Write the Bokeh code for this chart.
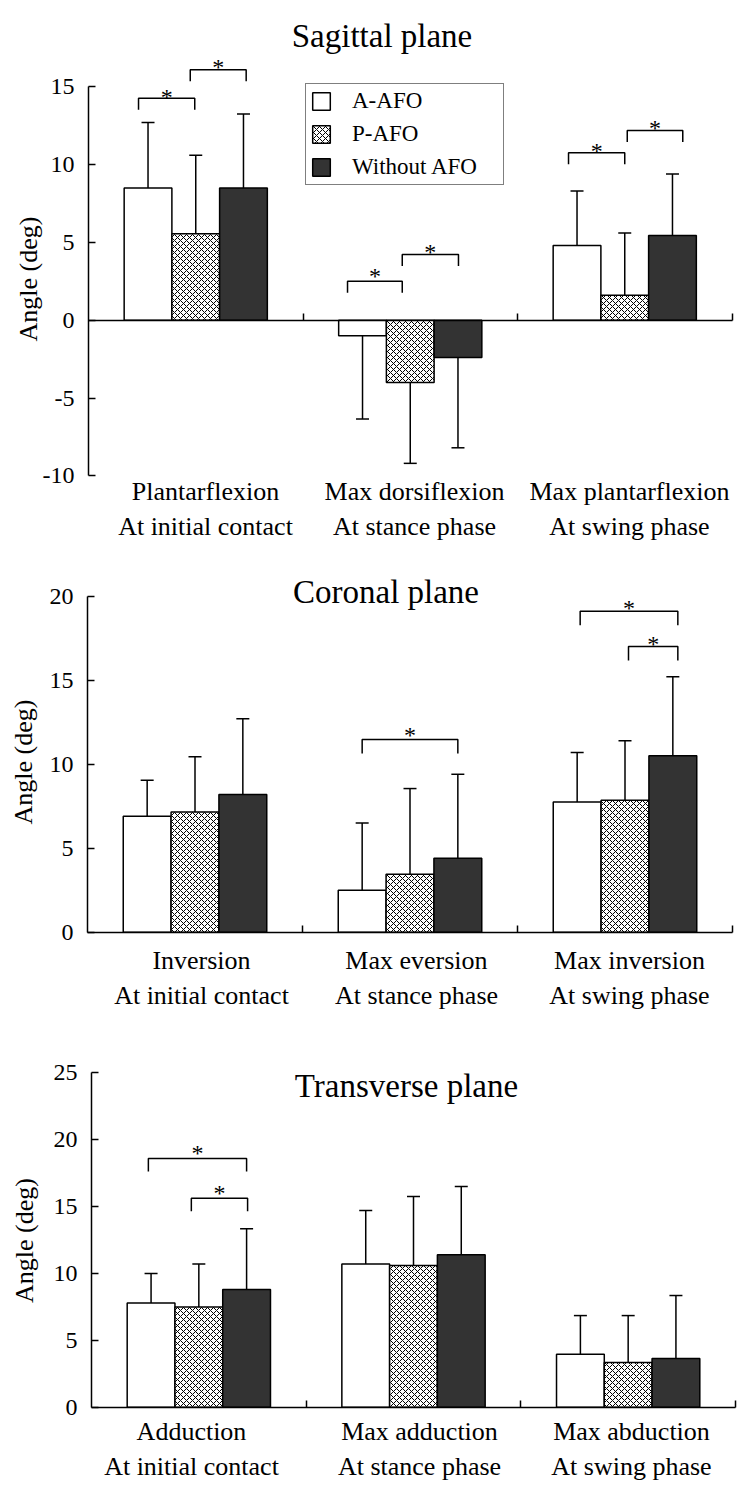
import math
from bokeh.plotting import figure
from bokeh.models import (ColumnDataSource, Range1d, FixedTicker, LinearAxis,
                          Whisker, TeeHead, Legend, LegendItem)
from bokeh.layouts import column
from bokeh.core.properties import value
from bokeh.embed import file_html
from bokeh.resources import INLINE

FONT = "Liberation Serif"

series = ["A-AFO", "P-AFO", "Without AFO"]

# ---------------- Sagittal plane ----------------
sag_title = "Sagittal plane"
sag_labels = ["Plantarflexion\nAt initial contact",
              "Max dorsiflexion\nAt stance phase",
              "Max plantarflexion\nAt swing phase"]
sag_a = [8.5, -1.0, 4.8]
sag_a_sd = [4.2, 5.35, 3.5]
sag_p = [5.55, -4.0, 1.6]
sag_p_sd = [5.05, 5.2, 4.0]
sag_w = [8.5, -2.4, 5.45]
sag_w_sd = [4.75, 5.8, 3.95]
sag_yticks = [-10, -5, 0, 5, 10, 15]
# (category, bar i, bar j, bracket height, star height)
sag_sig = [(0, 0, 1, 14.27, 15.08), (0, 1, 2, 16.09, 16.95),
           (1, 0, 1, 2.51, 3.52), (1, 1, 2, 4.22, 5.08),
           (2, 0, 1, 10.76, 11.55), (2, 1, 2, 12.19, 13.05)]

# ---------------- Coronal plane ----------------
cor_title = "Coronal plane"
cor_labels = ["Inversion\nAt initial contact",
              "Max eversion\nAt stance phase",
              "Max inversion\nAt swing phase"]
cor_a = [6.9, 2.5, 7.75]
cor_a_sd = [2.15, 4.0, 2.95]
cor_p = [7.15, 3.45, 7.85]
cor_p_sd = [3.3, 5.1, 3.55]
cor_w = [8.2, 4.4, 10.5]
cor_w_sd = [4.5, 5.0, 4.7]
cor_yticks = [0, 5, 10, 15, 20]
cor_sig = [(1, 0, 2, 11.47, 12.4), (2, 0, 2, 19.1, 19.94), (2, 1, 2, 17.0, 17.8)]

# ---------------- Transverse plane ----------------
tra_title = "Transverse plane"
tra_labels = ["Adduction\nAt initial contact",
              "Max adduction\nAt stance phase",
              "Max abduction\nAt swing phase"]
tra_a = [7.8, 10.7, 3.95]
tra_a_sd = [2.2, 4.0, 2.9]
tra_p = [7.5, 10.6, 3.35]
tra_p_sd = [3.2, 5.15, 3.5]
tra_w = [8.8, 11.4, 3.65]
tra_w_sd = [4.55, 5.1, 4.7]
tra_yticks = [0, 5, 10, 15, 20, 25]
tra_sig = [(0, 0, 2, 18.6, 19.81), (0, 1, 2, 15.63, 16.85)]

y_title = "Angle (deg)"

# ---------------- layout / style (page pixels) ----------------
FILLS = ["white", "white", "#333333"]
HATCH = [None, "x", None]
BAR_W = 0.2225
PAGE_X0 = 1          # observed left offset of the figures on the page
FIG_W = 738

layouts = [
    dict(top=0, h=548, ax_x=89, ax_end=732.5, zero=319.7, ppu=15.56,
         lab_standoff=1, lab_x=[206, 415, 630], title_xy=(382.5, 35),
         ylab_xy=(29.2, 278.5), leg=11.5,
         sig_dx=[(-9.5, -1), (-5.5, 2.7), (-15, -8), (-8, 0.5), (-8.5, 0), (2.5, 10.3)]),
    dict(top=548, h=492, ax_x=88, ax_end=733, zero=931.7, ppu=16.8,
         lab_standoff=14, lab_x=[202, 417, 630], title_xy=(386.5, 591.7),
         ylab_xy=(24.2, 761.5), leg=14,
         sig_dx=[(0, 0), (3, 5), (3.5, 5)]),
    dict(top=1040, h=445, ax_x=92, ax_end=736, zero=1406.7, ppu=13.375,
         lab_standoff=10, lab_x=[192, 420, 632], title_xy=(407, 1085),
         ylab_xy=(25.3, 1240), leg=13,
         sig_dx=[(-2.7, 0), (-7.5, 1)]),
]

panels = [
    (sag_title, sag_labels, [(sag_a, sag_a_sd), (sag_p, sag_p_sd), (sag_w, sag_w_sd)], sag_yticks, sag_sig),
    (cor_title, cor_labels, [(cor_a, cor_a_sd), (cor_p, cor_p_sd), (cor_w, cor_w_sd)], cor_yticks, cor_sig),
    (tra_title, tra_labels, [(tra_a, tra_a_sd), (tra_p, tra_p_sd), (tra_w, tra_w_sd)], tra_yticks, tra_sig),
]


def make_panel(idx):
    title, labels, data, yticks, sig = panels[idx]
    L = layouts[idx]
    ax_x = L["ax_x"]
    ppx = (L["ax_end"] - ax_x) / 3.0
    ppu = L["ppu"]
    bottom = L["top"] + L["h"]
    x0 = (PAGE_X0 - ax_x) / ppx
    x1 = (PAGE_X0 + FIG_W - ax_x) / ppx
    y0 = (L["zero"] - bottom) / ppu
    y1 = (L["zero"] - L["top"]) / ppu
    p = figure(width=FIG_W, height=L["h"], output_backend="svg", toolbar_location=None,
               x_range=Range1d(x0, x1), y_range=Range1d(y0, y1), title=None,
               x_axis_location=None, y_axis_location=None,
               min_border_left=0, min_border_right=0, min_border_top=0,
               min_border_bottom=0,
               background_fill_color="white", border_fill_color="white",
               outline_line_color=None)
    p.xgrid.visible = False
    p.ygrid.visible = False

    # y axis at x = 0
    ya = LinearAxis(fixed_location=0, ticker=FixedTicker(ticks=yticks),
                    bounds=(yticks[0], yticks[-1]),
                    major_label_overrides={t: str(t) for t in yticks},
                    major_tick_in=7, major_tick_out=0, minor_tick_line_color=None,
                    axis_line_width=1.5, major_tick_line_width=1.5,
                    major_label_standoff=14, major_label_text_font=FONT,
                    major_label_text_font_size="24px", major_label_text_color="black")
    p.add_layout(ya, "left")

    # y axis title, centred on the axis span
    lx = (L["ylab_xy"][0] - ax_x) / ppx
    ly = (L["zero"] - L["ylab_xy"][1]) / ppu
    p.text(x=[lx], y=[ly], text=[y_title], angle=math.pi / 2,
           text_align="center", text_baseline="middle",
           text_font=value(FONT), text_font_size="26px", text_color="black")

    # category labels: an axis without line/ticks placed at the bottom of the y span
    lab_pos = [round((x - ax_x) / ppx, 4) for x in L["lab_x"]]
    ca = LinearAxis(fixed_location=yticks[0], ticker=FixedTicker(ticks=lab_pos),
                    major_label_overrides={pos: lab for pos, lab in zip(lab_pos, labels)},
                    axis_line_color=None, major_tick_line_color=None,
                    minor_tick_line_color=None, major_tick_in=0, major_tick_out=0,
                    minor_tick_out=0, major_label_standoff=L["lab_standoff"],
                    major_label_text_font=FONT, major_label_text_font_size="26px",
                    major_label_text_color="black")
    p.add_layout(ca, "below")

    # zero line axis with category separators
    zx = LinearAxis(fixed_location=0, ticker=FixedTicker(ticks=[1, 2, 3]), bounds=(0, 3),
                    major_tick_in=7, major_tick_out=0, minor_tick_line_color=None,
                    major_label_overrides={1: "", 2: "", 3: ""},
                    axis_line_width=1.5, major_tick_line_width=1.5)
    p.add_layout(zx, "below")

    renderers = []
    for k, (means, sds) in enumerate(data):
        xs = [g + 0.5 + (k - 1) * BAR_W for g in range(len(means))]
        src = ColumnDataSource(dict(x=xs, top=means))
        r = p.vbar(x="x", top="top", bottom=0, width=BAR_W, source=src,
                   fill_color=FILLS[k], line_color="black", line_width=1.5,
                   hatch_pattern=HATCH[k], hatch_color="black", hatch_scale=6,
                   hatch_weight=1)
        renderers.append(r)
        pos = [i for i, m in enumerate(means) if m >= 0]
        neg = [i for i, m in enumerate(means) if m < 0]
        if pos:
            ws = ColumnDataSource(dict(base=[xs[i] for i in pos],
                                       lower=[means[i] for i in pos],
                                       upper=[means[i] + sds[i] for i in pos]))
            p.add_layout(Whisker(source=ws, base="base", lower="lower", upper="upper",
                                 dimension="height", line_width=1.5, line_color="black",
                                 upper_head=TeeHead(size=13, line_width=1.5, line_color="black"),
                                 lower_head=None, level="annotation"))
        if neg:
            ws = ColumnDataSource(dict(base=[xs[i] for i in neg],
                                       lower=[means[i] - sds[i] for i in neg],
                                       upper=[means[i] for i in neg]))
            p.add_layout(Whisker(source=ws, base="base", lower="lower", upper="upper",
                                 dimension="height", line_width=1.5, line_color="black",
                                 lower_head=TeeHead(size=13, line_width=1.5, line_color="black"),
                                 upper_head=None, level="annotation"))

    # significance brackets
    bxs, bys, sx, sy = [], [], [], []
    leg = L["leg"] / ppu
    for (g, i, j, yb, ys), (d1, d2) in zip(sig, L["sig_dx"]):
        xa1 = g + 0.5 + (i - 1) * BAR_W + d1 / ppx
        xa2 = g + 0.5 + (j - 1) * BAR_W + d2 / ppx
        bxs.append([xa1, xa1, xa2, xa2])
        bys.append([yb - leg, yb, yb, yb - leg])
        sx.append((xa1 + xa2) / 2)
        sy.append(ys)
    p.multi_line(xs=bxs, ys=bys, line_color="black", line_width=1.5)
    p.text(x=sx, y=sy, text=["*"] * len(sx), text_font=value(FONT), text_font_size="24px",
           text_align="center", text_baseline="alphabetic", y_offset=11, text_color="black")

    # panel title
    tx = (L["title_xy"][0] - ax_x) / ppx
    ty = (L["zero"] - L["title_xy"][1]) / ppu
    p.text(x=[tx], y=[ty], text=[title], text_font=value(FONT), text_font_size="33px",
           text_align="center", text_baseline="alphabetic", text_color="black")

    if idx == 0:
        legend = Legend(items=[LegendItem(label=s, renderers=[r]) for s, r in zip(series, renderers)],
                        location=(306 - PAGE_X0, bottom - 185),
                        border_line_color="black", border_line_width=1,
                        background_fill_color="white", background_fill_alpha=1,
                        padding=4, spacing=7, margin=0,
                        glyph_width=22, glyph_height=22, label_standoff=20,
                        label_width=147, label_height=26,
                        label_text_font=FONT, label_text_font_size="23px",
                        label_text_color="black")
        p.add_layout(legend)
    return p


figs = [make_panel(i) for i in range(3)]
page = column(*figs, spacing=0)
open("out.html", "w").write(file_html(page, INLINE))
